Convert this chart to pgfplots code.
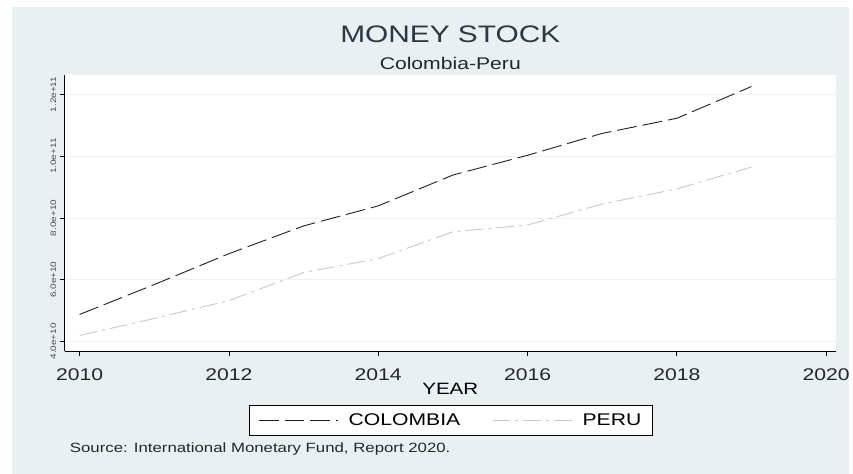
\documentclass[border=0pt]{standalone}
\usepackage{fontspec}
\setmainfont{Liberation Sans}[FakeStretch=1.25]
\usepackage{pgfplots}
\pgfplotsset{compat=1.18}
\definecolor{bg}{RGB}{233,240,242}
\definecolor{gridc}{RGB}{236,242,243}
\definecolor{titlec}{RGB}{45,55,70}
\definecolor{colc}{RGB}{30,30,30}
\definecolor{peruc}{RGB}{200,200,200}
\begin{document}
\begin{tikzpicture}[x=1pt,y=1pt]
\fill[white] (0,0) rectangle (853,476);
\fill[bg] (12,0) rectangle (853,469);
\begin{axis}[
    at={(65pt,123pt)}, anchor=south west,
    scale only axis, width=775pt, height=278pt,
    clip mode=individual,
    xmin=2009.8, xmax=2020.13,
    ymin=3.677e10, ymax=12.645e10,
    scaled y ticks=false,
    axis x line*=bottom, axis y line*=left,
    axis line style={-, black, line width=0.9pt},
    axis background/.style={fill=white},
    tick align=outside, major tick length=5pt,
    tick style={black, line width=0.8pt},
    xtick={2010,2012,...,2020},
    xticklabels={2010,2012,2014,2016,2018,2020},
    ytick={4e10,6e10,8e10,1e11,1.2e11},
    yticklabels={4.0e+10,6.0e+10,8.0e+10,1.0e+11,1.2e+11},
    /pgf/number format/assume math mode=true,
    xticklabel shift=9pt,
    xticklabel style={font=\fontsize{17}{20}\selectfont, text=black!85},
    yticklabel style={rotate=90, anchor=south, font=\fontsize{8}{9}\selectfont, text=black!70},
    ymajorgrids, grid style={gridc, line width=0.8pt},
    xlabel={YEAR},
    every axis x label/.style={at={(axis description cs:0.5,-0.137)}, anchor=center, font=\fontsize{16.5}{19}\selectfont},
    legend columns=2,
    legend style={at={(axis description cs:0.5006,-0.25)}, anchor=center, draw=black, line width=0.8pt, fill=white,
        font=\fontsize{17}{20}\selectfont, inner xsep=9pt, inner ysep=6pt,
        /tikz/every odd column/.append style={column sep=8pt},
        /tikz/every even column/.append style={column sep=30pt}},
    legend image code/.code={\draw[#1] (0pt,0pt) -- (80pt,0pt);},
]
\addplot[colc, line width=0.9pt, dash pattern=on 20pt off 6pt] coordinates {
    (2010,4.87e10) (2011,5.84e10) (2012,6.84e10) (2013,7.74e10) (2014,8.39e10)
    (2015,9.39e10) (2016,10.03e10) (2017,10.74e10) (2018,11.23e10) (2019,12.26e10)};
\addlegendentry{COLOMBIA}
\addplot[peruc, line width=0.9pt, dash pattern=on 18pt off 5pt on 3pt off 5pt] coordinates {
    (2010,4.19e10) (2011,4.74e10) (2012,5.32e10) (2013,6.23e10) (2014,6.68e10)
    (2015,7.55e10) (2016,7.77e10) (2017,8.45e10) (2018,8.94e10) (2019,9.65e10)};
\addlegendentry{PERU}
\node[anchor=base, text=titlec, font=\fontsize{24}{27}\selectfont] at (axis description cs:0.5,1.115) {MONEY STOCK};
\node[anchor=base, text=black!85, font=\fontsize{17}{20}\selectfont] at (axis description cs:0.5,1.018) {Colombia-Peru};
\node[anchor=base west, inner sep=0pt, text=black!85, font=\fontsize{13.5}{16}\selectfont] at (axis description cs:0.0065,-0.367) {Source: International Monetary Fund, Report 2020.};
\end{axis}
\end{tikzpicture}
\end{document}
